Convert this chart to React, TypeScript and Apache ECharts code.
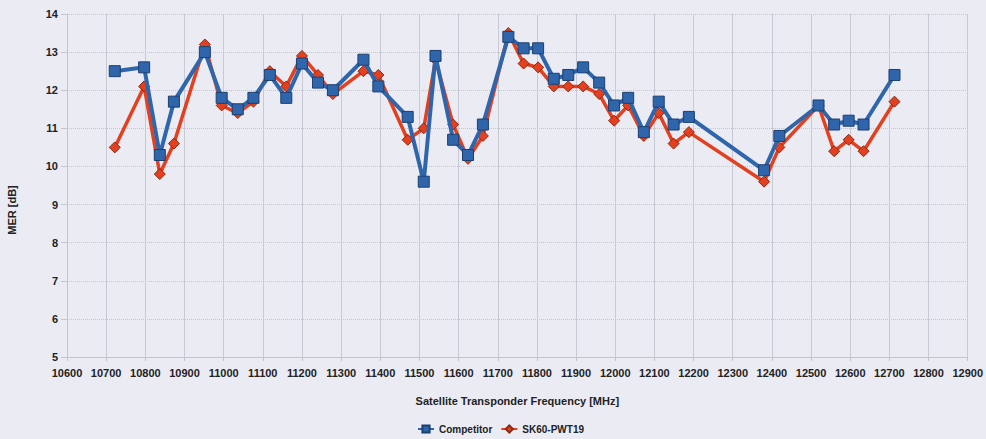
import React, { useEffect, useRef } from "react";
import * as echarts from "echarts";

const frequencies = [10722, 10797, 10837, 10873, 10952, 10995, 11036, 11076, 11118, 11160, 11200, 11241, 11279, 11357, 11395, 11470, 11511, 11541, 11586, 11624, 11662, 11727, 11766, 11803, 11843, 11880, 11918, 11959, 11997, 12033, 12073, 12111, 12149, 12188, 12380, 12419, 12519, 12559, 12596, 12634, 12713];
const competitor = [12.5, 12.6, 10.3, 11.7, 13.0, 11.8, 11.5, 11.8, 12.4, 11.8, 12.7, 12.2, 12.0, 12.8, 12.1, 11.3, 9.6, 12.9, 10.7, 10.3, 11.1, 13.4, 13.1, 13.1, 12.3, 12.4, 12.6, 12.2, 11.6, 11.8, 10.9, 11.7, 11.1, 11.3, 9.9, 10.8, 11.6, 11.1, 11.2, 11.1, 12.4];
const sk60 = [10.5, 12.1, 9.8, 10.6, 13.2, 11.6, 11.4, 11.7, 12.5, 12.1, 12.9, 12.4, 11.9, 12.5, 12.4, 10.7, 11.0, 12.8, 11.1, 10.2, 10.8, 13.5, 12.7, 12.6, 12.1, 12.1, 12.1, 11.9, 11.2, 11.6, 10.8, 11.4, 10.6, 10.9, 9.6, 10.5, 11.6, 10.4, 10.7, 10.4, 11.7];
const seriesNames = ["Competitor", "SK60-PWT19"];
const xAxisTitle = "Satellite Transponder Frequency [MHz]";
const yAxisTitle = "MER [dB]";

const FONT = "'Liberation Sans', Arial, sans-serif";

export default function App() {
  const ref = useRef<HTMLDivElement>(null);
  useEffect(() => {
    if (!ref.current) return;
    const chart = echarts.init(ref.current, undefined, { renderer: "svg" });
    const pair = (ys: number[]) => frequencies.map((f, i) => [f, ys[i]]);
    chart.setOption({
      animation: false,
      backgroundColor: "#ebebf4",
      textStyle: { fontFamily: FONT },
      grid: { left: 67, right: 14, top: 14, bottom: 82, containLabel: false },
      legend: {
        bottom: 0,
        left: 412,
        itemWidth: 16,
        itemHeight: 9,
        itemGap: 8,
        textStyle: { fontFamily: FONT, fontSize: 10, color: "#222", fontWeight: "bold" },
        data: seriesNames,
      },
      graphic: [
        {
          type: "text",
          x: 12,
          y: 210,
          rotation: Math.PI / 2,
          style: {
            text: yAxisTitle,
            fontFamily: FONT,
            fontSize: 11,
            fontWeight: "bold",
            fill: "#222",
            align: "center",
            verticalAlign: "middle",
          },
        },
      ],
      xAxis: {
        type: "value",
        min: 10600,
        max: 12900,
        interval: 100,
        name: xAxisTitle,
        nameLocation: "middle",
        nameGap: 38,
        nameTextStyle: { fontFamily: FONT, fontSize: 11, fontWeight: "bold", color: "#222" },
        axisLine: { show: true, lineStyle: { color: "#c4c4d0" } },
        axisTick: { show: true, length: 4, lineStyle: { color: "#c4c4d0" } },
        axisLabel: {
          margin: 10,
          fontFamily: FONT,
          fontSize: 11,
          fontWeight: "bold",
          color: "#222",
          formatter: (v: number) => String(v),
        },
        splitLine: { show: true, lineStyle: { color: "#c9c9d6", width: 1 } },
      },
      yAxis: {
        type: "value",
        min: 5,
        max: 14,
        interval: 1,
        axisLine: { show: true, lineStyle: { color: "#c4c4d0" } },
        axisTick: { show: true, length: 6, lineStyle: { color: "#c4c4d0" } },
        axisLabel: { margin: 9, fontFamily: FONT, fontSize: 11, fontWeight: "bold", color: "#222" },
        splitLine: { show: true, lineStyle: { color: "#c4c4d0", type: "dotted", width: 1 } },
      },
      series: [
        {
          name: seriesNames[0],
          type: "line",
          z: 3,
          data: pair(competitor),
          symbol: "rect",
          symbolSize: 11,
          lineStyle: { color: "#2f66ab", width: 4 },
          itemStyle: { color: "#2f66ab", borderColor: "#1c3f6e", borderWidth: 1 },
        },
        {
          name: seriesNames[1],
          type: "line",
          z: 2,
          data: pair(sk60),
          symbol: "diamond",
          symbolSize: 11,
          lineStyle: { color: "#e2401f", width: 3.5 },
          itemStyle: { color: "#e2401f", borderColor: "#8a2a14", borderWidth: 1 },
        },
      ],
    });
    return () => chart.dispose();
  }, []);
  return <div ref={ref} style={{ width: 986, height: 439, position: "absolute", left: 0, top: 0 }} />;
}
